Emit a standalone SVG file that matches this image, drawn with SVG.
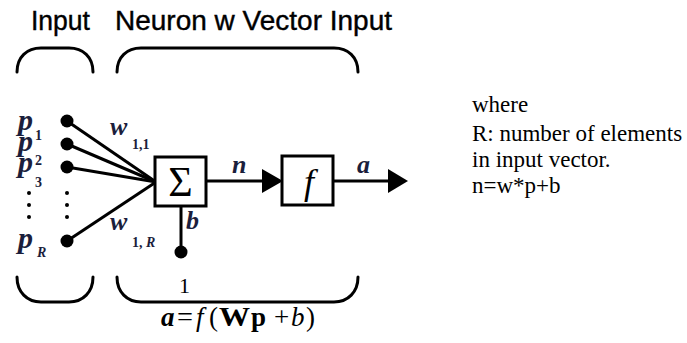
<svg xmlns="http://www.w3.org/2000/svg" width="687" height="343" viewBox="0 0 687 343">
<defs>
<style>
.hd{font-family:"Liberation Sans",Arial,sans-serif;font-size:27px;fill:#000;stroke:#000;stroke-width:0.4}
.br{fill:none;stroke:#000;stroke-width:3;stroke-linecap:round}
.ln{stroke:#000;stroke-width:3;fill:none}
.box{fill:#fff;stroke:#000;stroke-width:3}
.dot{fill:#000}
.vd{fill:#000}
.lab{font-family:"Liberation Serif","Times New Roman",serif;font-style:italic;font-weight:bold;fill:#1b1e3c}
.sub{font-family:"Liberation Serif","Times New Roman",serif;font-weight:bold;font-size:14px;fill:#1b1e3c}
.ser{font-family:"Liberation Serif","Times New Roman",serif;fill:#000}
.it{font-style:italic}
.note{font-family:"Liberation Serif","Times New Roman",serif;font-size:23px;fill:#000}
</style>
</defs>
<rect width="687" height="343" fill="#fff"/>

<g id="headings">
<text class="hd" x="31" y="30" textLength="59" lengthAdjust="spacingAndGlyphs">Input</text>
<text class="hd" x="115" y="30" textLength="277" lengthAdjust="spacingAndGlyphs">Neuron w Vector Input</text>
</g>

<g id="braces">
<path class="br" d="M17,72 C17,57 27,48 41,48 L69,48 C83,48 93,57 93,72"/>
<path class="br" d="M117,72 C117,57 127,48 141,48 L334,48 C348,48 358,57 358,72"/>
<path class="br" d="M17,277 C17,292 27,302 41,302 L69,302 C83,302 93,292 93,277"/>
<path class="br" d="M117,277 C117,292 127,302 141,302 L334,302 C348,302 358,292 358,277"/>
</g>

<g id="connectors">
<line class="ln" x1="67" y1="121" x2="156" y2="182"/>
<line class="ln" x1="67" y1="144" x2="156" y2="182"/>
<line class="ln" x1="67" y1="167" x2="156" y2="182"/>
<line class="ln" x1="67" y1="241" x2="156" y2="182"/>
<line class="ln" x1="181" y1="206" x2="181" y2="250"/>
<line class="ln" x1="206" y1="181" x2="265" y2="181"/>
<polygon points="262,169 283,181 262,193" fill="#000"/>
<line class="ln" x1="333" y1="181" x2="390" y2="181"/>
<polygon points="388,169 408,181 388,193" fill="#000"/>
</g>

<g id="inputs">
<circle class="dot" cx="67" cy="121" r="6.5"/>
<circle class="dot" cx="67" cy="144" r="6.5"/>
<circle class="dot" cx="67" cy="167" r="6.5"/>
<circle class="dot" cx="67" cy="241" r="6.5"/>
<circle class="vd" cx="29" cy="193" r="2"/>
<circle class="vd" cx="29" cy="205" r="2"/>
<circle class="vd" cx="29" cy="217" r="2"/>
<circle class="vd" cx="67" cy="193" r="2"/>
<circle class="vd" cx="67" cy="205" r="2"/>
<circle class="vd" cx="67" cy="217" r="2"/>
<text class="lab" x="18" y="130" font-size="30">p</text>
<text class="lab" x="18" y="151" font-size="30">p</text>
<text class="lab" x="18" y="172" font-size="30">p</text>
<text class="lab" x="18" y="248" font-size="30">p</text>
<text class="sub" x="35" y="140">1</text>
<text class="sub" x="35" y="165">2</text>
<text class="sub" x="35" y="187">3</text>
<text class="sub" x="37" y="257" font-style="italic">R</text>
</g>

<g id="weights">
<text class="lab" x="110" y="135" font-size="26">w</text>
<text class="sub" x="132" y="149">1,1</text>
<text class="lab" x="110" y="230" font-size="26">w</text>
<text class="sub" x="132" y="247">1, <tspan font-style="italic">R</tspan></text>
</g>

<g id="sum">
<rect class="box" x="155" y="157" width="51" height="49"/>
<text class="ser" x="180.5" y="196" font-size="42" text-anchor="middle">Σ</text>
</g>

<g id="bias">
<circle class="dot" cx="181" cy="252" r="6.5"/>
<text class="lab" x="186" y="229" font-size="26">b</text>
<text class="ser" x="179" y="293" font-size="22">1</text>
</g>

<g id="transfer">
<rect class="box" x="282" y="156" width="51" height="49"/>
<text class="ser it" x="309" y="194" font-size="36" text-anchor="middle">f</text>
</g>

<g id="signal-labels">
<text class="lab" x="232" y="173" font-size="26">n</text>
<text class="lab" x="357" y="173" font-size="26">a</text>
</g>

<g id="formula" class="ser" font-size="27">
<text x="161" y="326" font-style="italic" font-weight="bold">a</text>
<text x="177" y="326" textLength="16" lengthAdjust="spacingAndGlyphs">=</text>
<text x="196" y="326" font-style="italic">f</text>
<text x="209" y="326">(</text>
<text x="219" y="326" font-weight="bold" textLength="31" lengthAdjust="spacingAndGlyphs">W</text>
<text x="251" y="326" font-weight="bold">p</text>
<text x="274" y="326">+</text>
<text x="291" y="326" font-style="italic">b</text>
<text x="306" y="326">)</text>
</g>

<g id="note">
<text class="note" x="472" y="112">where</text>
<text class="note" x="472" y="141">R: number of elements</text>
<text class="note" x="472" y="167">in input vector.</text>
<text class="note" x="472" y="193">n=w*p+b</text>
</g>
</svg>
